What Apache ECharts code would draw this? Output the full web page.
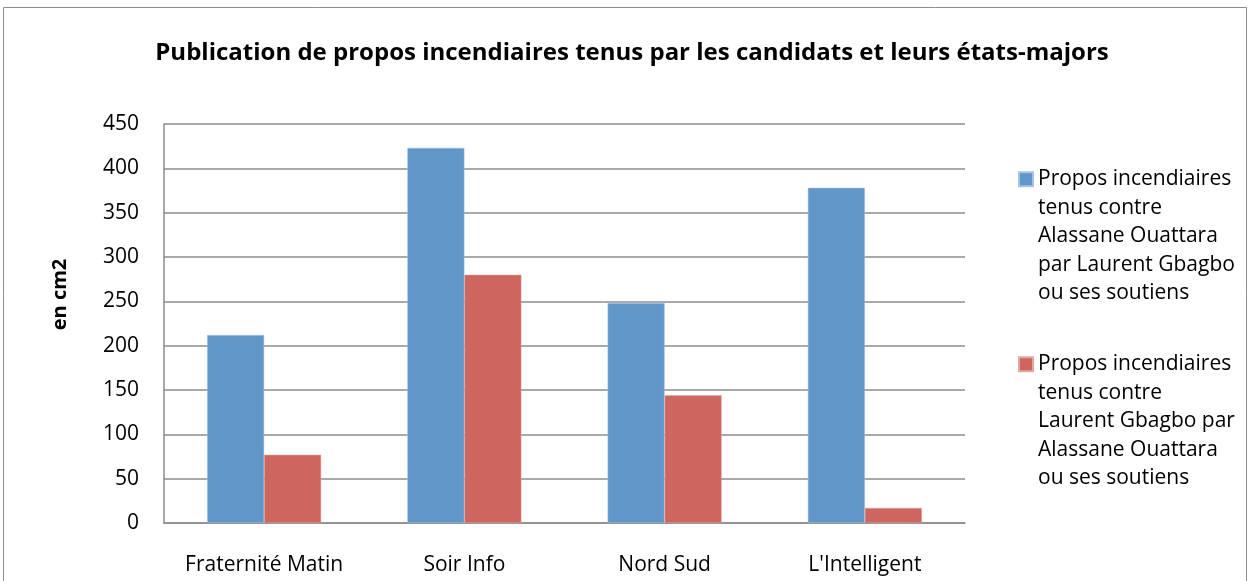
<!DOCTYPE html>
<html>
<head>
<meta charset="utf-8">
<script src="https://cdn.jsdelivr.net/npm/echarts@6/dist/echarts.min.js"></script>
<style>
  html, body { margin: 0; padding: 0; background: #fff; }
  #main { width: 1252px; height: 581px; }
</style>
</head>
<body>
<div id="main"></div>
<script>
const categories = ['Fraternité Matin', 'Soir Info', 'Nord Sud', "L'Intelligent"];
const seriesNames = [
    'Propos incendiaires\ntenus contre\nAlassane Ouattara\npar Laurent Gbagbo\nou ses soutiens',
    'Propos incendiaires\ntenus contre\nLaurent Gbagbo par\nAlassane Ouattara\nou ses soutiens'
];
const contreOuattara = [212, 423, 248, 378];
const contreGbagbo = [77, 280, 144, 17];
const yTicks = [0, 450, 50]; // min, max, interval

const chartDom = document.getElementById('main');
const myChart = echarts.init(chartDom);

const font = '"Open Sans", "Liberation Sans", sans-serif';

// one legend per series, blank lines above the text so the square sits next to the first line
const legendItem = (name, top) => ({
    orient: 'vertical',
    left: 1018,
    top: top,
    padding: 0,
    itemWidth: 14,
    itemHeight: 14,
    icon: 'rect',
    formatter: n => '\n\n\n\n' + n,
    textStyle: {
        fontFamily: font,
        fontSize: 21,
        color: '#000',
        lineHeight: 28.5
    },
    data: [name]
});

const option = {
    animation: false,
    textStyle: { fontFamily: font },
    title: {
        text: 'Publication de propos incendiaires tenus par les candidats et leurs états-majors',
        left: 627,
        textAlign: 'center',
        top: 36,
        textStyle: { fontFamily: font, fontSize: 24, fontWeight: 'bold', color: '#000' }
    },
    graphic: [
        {
            type: 'rect',
            shape: { x: 3.5, y: 7.5, width: 1243, height: 600 },
            style: { fill: 'none', stroke: '#8c8c8c', lineWidth: 1 },
            silent: true
        }
    ],
    legend: [
        legendItem(seriesNames[0], 51),
        legendItem(seriesNames[1], 236)
    ],
    grid: {
        left: 164,
        right: 287,
        top: 124,
        bottom: 58
    },
    xAxis: {
        type: 'category',
        data: categories,
        axisLine: { lineStyle: { color: '#8c8c8c', width: 1.5 } },
        axisTick: { show: false },
        axisLabel: { fontFamily: font, fontSize: 21, color: '#000', margin: 32, interval: 0 }
    },
    yAxis: {
        type: 'value',
        min: yTicks[0],
        max: yTicks[1],
        interval: yTicks[2],
        name: 'en cm2',
        nameLocation: 'middle',
        nameRotate: 90,
        nameGap: 94,
        nameTextStyle: { fontFamily: font, fontSize: 20, fontWeight: 'bold', color: '#000', padding: [0, 0, 0, 58] },
        axisLine: { show: true, lineStyle: { color: '#8c8c8c', width: 1.5 } },
        axisTick: { show: false },
        axisLabel: { fontFamily: font, fontSize: 21, color: '#000', margin: 25 },
        splitLine: { lineStyle: { color: '#8c8c8c', width: 1.5 } }
    },
    series: [
        {
            name: seriesNames[0],
            type: 'bar',
            data: contreOuattara,
            barWidth: 57,
            barGap: '0%',
            itemStyle: { color: '#6196C9', borderColor: '#a9c4e2', borderWidth: 0.5 }
        },
        {
            name: seriesNames[1],
            type: 'bar',
            data: contreGbagbo,
            barWidth: 57,
            barGap: '0%',
            itemStyle: { color: '#CD665F', borderColor: '#e2a8a4', borderWidth: 0.5 }
        }
    ]
};

myChart.setOption(option);
</script>
</body>
</html>
